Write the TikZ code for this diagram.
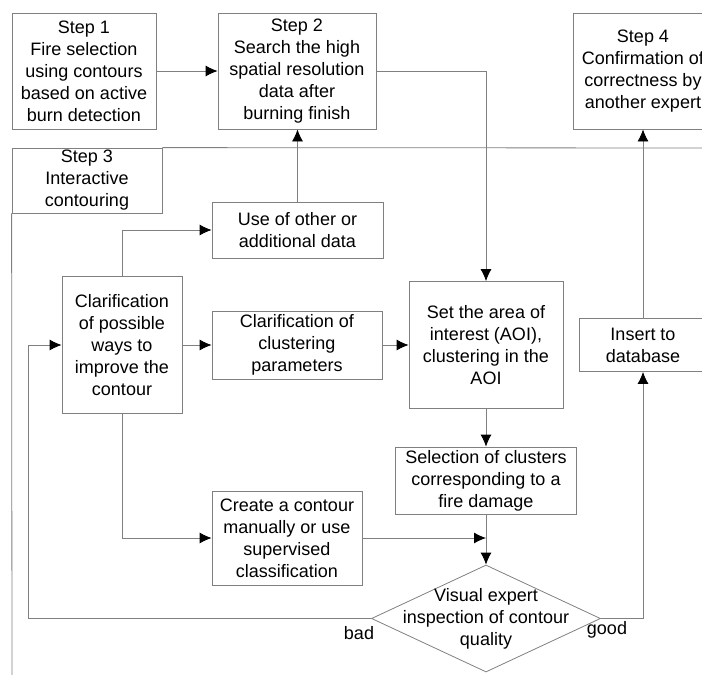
\documentclass[tikz,border=0pt]{standalone}
\usepackage{fontspec}
\setmainfont{Liberation Sans}
\usetikzlibrary{arrows.meta,shapes.geometric}
\definecolor{linegray}{HTML}{808080}
\begin{document}
\begin{tikzpicture}[x=1pt,y=-1pt,
  every node/.style={font=\fontsize{18}{22}\selectfont, align=center, inner sep=0pt, text=black},
  box/.style={draw=linegray, line width=0.8pt, rectangle},
  conn/.style={draw=linegray, line width=0.8pt},
  arr/.style={conn, -{Latex[length=12pt,width=11pt,color=black]}}]
\useasboundingbox (0,0) rectangle (702,675);
\clip (0,0) rectangle (702,675);
% boxes
\node[box, minimum width=144, minimum height=116] (s1) at (84,71) {Step 1\\Fire selection\\using contours\\based on active\\burn detection};
\node[box, minimum width=158, minimum height=116] (s2) at (297,71) {Step 2\\Search the high\\spatial resolution\\data after\\burning finish};
\node[box, minimum width=140, minimum height=116] (s4) at (643,71) {Step 4\\Confirmation of\\correctness by\\another expert};
\node[box, minimum width=150, minimum height=65] (s3) at (87,180.5) {Step 3\\Interactive\\contouring};
\node[box, minimum width=171, minimum height=56] (use) at (297.5,230) {Use of other or\\additional data};
\node[box, minimum width=120, minimum height=137] (clar) at (122,345) {Clarification\\of possible\\ways to\\improve the\\contour};
\node[box, minimum width=170, minimum height=68] (par) at (297,345) {Clarification of\\clustering\\parameters};
\node[box, minimum width=154, minimum height=127] (aoi) at (486,345) {Set the area of\\interest (AOI),\\clustering in the\\AOI};
\node[box, minimum width=128, minimum height=53] (ins) at (643,345) {Insert to\\database};
\node[box, minimum width=181, minimum height=67] (sel) at (486,480.5) {Selection of clusters\\corresponding to a\\fire damage};
\node[box, minimum width=150, minimum height=94] (cre) at (287,538) {Create a contour\\manually or use\\supervised\\classification};
\node[diamond, draw=linegray, line width=0.8pt, minimum width=229, minimum height=107, inner sep=0pt] (dia) at (486,618.5) {};
\node (diatext) at (486,618.5) {Visual expert\\inspection of contour\\quality};
\node (bad) at (359,633) {bad};
\node (good) at (607,630) {good};
% frame of step 3
\coordinate (frameright) at (720,148);
\coordinate (framebottom) at (12,690);
\coordinate (loopx) at (28,0);
\draw[conn] (s3.north east) -- (frameright);
\draw[conn] (s3.south west) -- (framebottom);
% connectors
\draw[arr] (s1.east) -- (s1.east -| s2.west);
\draw[arr] (s2.east) -| (aoi.north);
\draw[arr] (use.north) -- (use.north |- s2.south);
\draw[arr] (clar.north) |- (use.west);
\draw[arr] (clar.east) -- (par.west);
\draw[arr] (par.east) -- (aoi.west);
\draw[arr] (aoi.south) -- (sel.north);
\draw[arr] (sel.south) -- (dia.north);
\draw[arr] (clar.south) |- (cre.west);
\draw[arr] (cre.east) -- (cre.east -| sel.south);
\draw[arr] (dia.west) -- (dia.west -| loopx) |- (clar.west);
\draw[arr] (dia.east) -| (ins.south);
\draw[arr] (ins.north) -- (s4.south);
\end{tikzpicture}
\end{document}
